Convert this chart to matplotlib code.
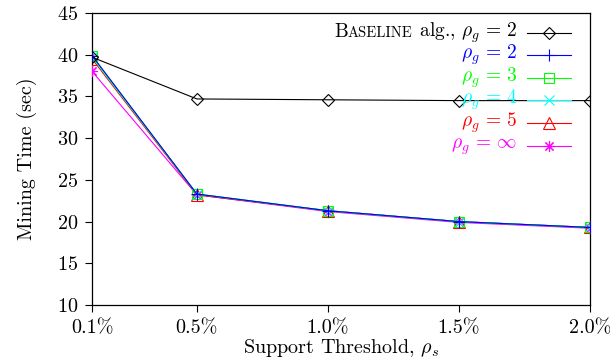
import matplotlib
matplotlib.use('Agg')
import matplotlib.pyplot as plt
from matplotlib.offsetbox import TextArea, HPacker, AnchoredOffsetbox

plt.rcParams['font.family'] = ['cmr10', 'DejaVu Serif']
plt.rcParams['mathtext.fontset'] = 'cm'
plt.rcParams['axes.formatter.use_mathtext'] = True

# support thresholds (%) and mining times (sec)
support = [0.1, 0.5, 1.0, 1.5, 2.0]
tick_labels = ['0.1%', '0.5%', '1.0%', '1.5%', '2.0%']
baseline = [39.7, 34.7, 34.6, 34.5, 34.5]
rho2 = [39.9, 23.3, 21.3, 20.0, 19.3]
rho3 = [39.8, 23.3, 21.3, 20.0, 19.3]
rho4 = [39.7, 23.3, 21.3, 20.0, 19.3]
rho5 = [39.5, 23.2, 21.3, 20.0, 19.3]
rho_inf = [38.0, 23.2, 21.2, 19.9, 19.2]

asterisk = (8, 2, 0)
series = [
    (baseline, 'black', 'D', None),
    (rho2, '#0000ff', '+', r'$\rho_g\, =\, 2$'),
    (rho3, '#00ff00', 's', r'$\rho_g\, =\, 3$'),
    (rho4, '#00ffff', 'x', r'$\rho_g\, =\, 4$'),
    (rho5, '#ff0000', '^', r'$\rho_g\, =\, 5$'),
    (rho_inf, '#ff00ff', asterisk, r'$\rho_g\, =\, \infty$'),
]

def msize(mk):
    return {'D': 6, '+': 9, 's': 7, 'x': 7, '^': 8}.get(mk, 8) if isinstance(mk, str) else 8

fig = plt.figure(figsize=(6.1, 3.62), dpi=100)
ax = fig.add_axes([0.151, 0.1575, 0.816, 0.8065])

# draw in reverse so the blue curve ends up on top
for vals, col, mk, lab in reversed(series):
    ax.plot(support, vals, color=col, lw=0.8, marker=mk, ms=msize(mk),
            mfc='none', mec=col, mew=0.8, zorder=3)

ax.set_xlim(0.1, 2.0)
ax.set_ylim(10, 45)
ax.set_xticks(support)
ax.set_xticklabels(tick_labels)
ax.set_yticks(range(10, 46, 5))
ax.tick_params(direction='out', length=5, width=0.8, labelsize=14.5,
               top=False, right=False)
ax.tick_params(axis='x', pad=5)
ax.tick_params(axis='y', pad=5)
for sp in ax.spines.values():
    sp.set_linewidth(0.9)

ax.set_ylabel('Mining Time (sec)', fontsize=14.5, labelpad=14)
ax.set_xlabel(r'Support Threshold, $\rho_s$', fontsize=14.5, labelpad=0)

# hand-made key: right-aligned labels followed by a line sample
x_text = 0.848
x0, x1 = 0.864, 0.936
row_y = [0.909, 0.848, 0.785, 0.724, 0.660, 0.597]
fs = 14
for (vals, col, mk, lab), y in zip(series, row_y):
    if lab is None:
        box = HPacker(children=[
            TextArea('B', textprops=dict(fontsize=fs, color=col)),
            TextArea('ASELINE', textprops=dict(fontsize=10.5, color=col)),
            TextArea(r' alg., $\rho_g\, =\, 2$', textprops=dict(fontsize=fs, color=col)),
        ], align='baseline', pad=0, sep=0)
    else:
        box = TextArea(lab, textprops=dict(fontsize=fs, color=col))
    anc = AnchoredOffsetbox(loc='center right', child=box, pad=0, borderpad=0,
                            frameon=False, bbox_to_anchor=(x_text, y),
                            bbox_transform=fig.transFigure)
    ax.add_artist(anc)
    fig.lines.append(plt.Line2D([x0, x1], [y, y], color=col, lw=0.8,
                                transform=fig.transFigure))
    fig.lines.append(plt.Line2D([(x0 + x1) / 2], [y], color=col, marker=mk,
                                ms=msize(mk), mfc='none', mec=col, mew=0.8,
                                transform=fig.transFigure))

fig.savefig('out.png', dpi=100)
